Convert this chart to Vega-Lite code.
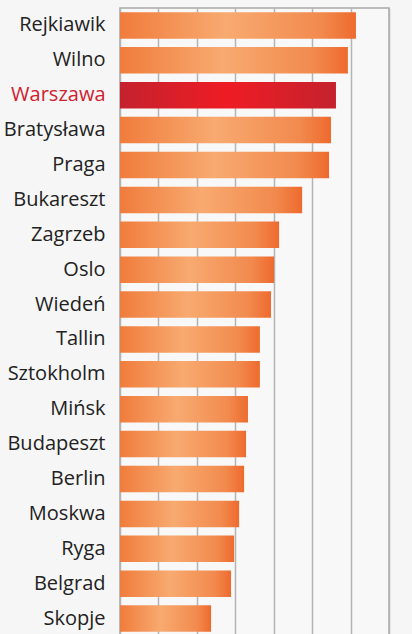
{
  "$schema": "https://vega.github.io/schema/vega-lite/v6.json",
  "width": 269,
  "height": 628,
  "autosize": {"type": "none"},
  "padding": {"left": 120, "top": 8, "right": 23, "bottom": 0},
  "background": "#f6f6f6",
  "config": {
    "view": {"stroke": "#a8a8a8", "strokeWidth": 1.5, "fill": "#f8f8f8"},
    "font": "Open Sans"
  },
  "data": {
    "values": [
      {"city": "Rejkiawik", "value": 6.14},
      {"city": "Wilno", "value": 5.93},
      {"city": "Warszawa", "value": 5.62},
      {"city": "Bratysława", "value": 5.49},
      {"city": "Praga", "value": 5.44},
      {"city": "Bukareszt", "value": 4.74},
      {"city": "Zagrzeb", "value": 4.14},
      {"city": "Oslo", "value": 4.01},
      {"city": "Wiedeń", "value": 3.93},
      {"city": "Tallin", "value": 3.64},
      {"city": "Sztokholm", "value": 3.64},
      {"city": "Mińsk", "value": 3.33},
      {"city": "Budapeszt", "value": 3.28},
      {"city": "Berlin", "value": 3.23},
      {"city": "Moskwa", "value": 3.10},
      {"city": "Ryga", "value": 2.97},
      {"city": "Belgrad", "value": 2.89},
      {"city": "Skopje", "value": 2.37}
    ]
  },
  "encoding": {
    "y": {
      "field": "city",
      "type": "nominal",
      "sort": {"field": "value", "op": "max", "order": "descending"},
      "scale": {"paddingInner": 0.24, "paddingOuter": 0.12},
      "axis": {
        "title": null,
        "ticks": false,
        "domain": false,
        "labelFontSize": 20,
        "labelPadding": 15,
        "labelColor": {"condition": {"test": "datum.value === 'Warszawa'", "value": "#d0202e"}, "value": "#222222"}
      }
    },
    "x": {
      "field": "value",
      "type": "quantitative",
      "scale": {"domain": [0, 7], "nice": false, "zero": true},
      "axis": {
        "title": null,
        "labels": false,
        "ticks": false,
        "domain": false,
        "values": [0, 1, 2, 3, 4, 5, 6, 7],
        "grid": true,
        "gridColor": "#b4b4b4",
        "gridWidth": 1.5
      }
    }
  },
  "layer": [
    {
      "transform": [{"filter": "datum.city !== 'Warszawa'"}],
      "mark": {
        "type": "bar",
        "color": {
          "gradient": "linear",
          "x1": 0, "y1": 0, "x2": 1, "y2": 0,
          "stops": [
            {"offset": 0, "color": "#f07c3c"},
            {"offset": 0.45, "color": "#f8aa70"},
            {"offset": 0.85, "color": "#f28a4e"},
            {"offset": 1, "color": "#ee6a2e"}
          ]
        }
      }
    },
    {
      "transform": [{"filter": "datum.city === 'Warszawa'"}],
      "mark": {
        "type": "bar",
        "color": {
          "gradient": "linear",
          "x1": 0, "y1": 0, "x2": 1, "y2": 0,
          "stops": [
            {"offset": 0, "color": "#c4222e"},
            {"offset": 0.5, "color": "#ee1c24"},
            {"offset": 1, "color": "#c4222e"}
          ]
        }
      }
    }
  ]
}
